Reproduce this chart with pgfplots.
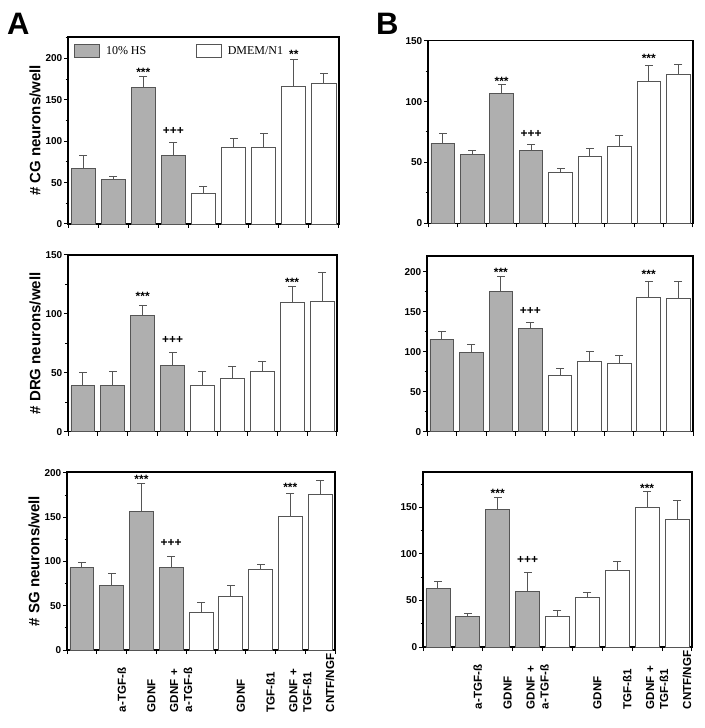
\documentclass[border=0pt]{standalone}
\usepackage{fontspec}
\setmainfont{Liberation Sans}
\newfontfamily\legfont{Liberation Serif}
\usepackage{pgfplots}
\pgfplotsset{compat=1.18}
\usepackage{pgfplotstable}
\usetikzlibrary{plotmarks}

\definecolor{barg}{HTML}{AFAFAF}
\definecolor{bard}{HTML}{555555}

\pgfplotstableread{
x y e
1 67 16
2 54 4
3 165 13
4 83 16
5 37 8
6 92 11
7 93 17
8 166 33
9 170 12
}\dAone
\pgfplotstableread{
x y e
1 65.6 8.2
2 56.5 3.5
3 106.5 7.5
4 60 4.4
5 41.5 3.5
6 55 6.5
7 63.4 9
8 116.4 13.6
9 122.4 8.2
}\dBone
\pgfplotstableread{
x y e
1 39 11
2 39 12
3 99 8
4 56 11.5
5 39 12
6 45 10
7 51 9
8 110 13
9 111 24.6
}\dAtwo
\pgfplotstableread{
x y e
1 116 9
2 99.6 10
3 176 18.6
4 129.7 7.3
5 70 9.5
6 88 13
7 85 10
8 168.6 20
9 167 21.7
}\dBtwo
\pgfplotstableread{
x y e
1 93 6
2 73 13
3 156 32
4 93 13
5 43 11
6 61 12
7 91 6
8 151 26
9 176 16
}\dAthree
\pgfplotstableread{
x y e
1 62.5 7.5
2 32.5 3.3
3 147.6 13.4
4 60 19.7
5 33.2 6.4
6 53.6 5.4
7 82.2 10
8 150 16.9
9 136.9 20
}\dBthree

\pgfplotsset{
  panel/.style={
    scale only axis, anchor=south west,
    xmin=0.5, xmax=9.5, ymin=0, enlargelimits=false,
    xtick={0.5,1.5,...,9.5}, xticklabels={},
    ytick distance=50, minor y tick num=1,
    xtick pos=bottom, ytick pos=left,
    tick align=outside, major tick length=4pt, minor tick length=2.5pt,
    tick style={black, line width=1pt},
    axis line style={line width=1.2pt, black},
    /pgf/number format/assume math mode=true,
    yticklabel style={font=\bfseries\fontsize{10}{10}\selectfont, inner sep=1.5pt},
    ylabel style={font=\bfseries\fontsize{15}{15}\selectfont},
    bar width=0.8, clip=false,
  },
  errs/.style={
    error bars/y dir=plus, error bars/y explicit,
    error bars/error mark=none,
    error bars/error bar style={draw=bard, line width=0.9pt}},
  grayb/.style={ybar, bar shift=0pt, forget plot, fill=barg, draw=bard, line width=0.8pt, errs},
  whiteb/.style={ybar, bar shift=0pt, forget plot, fill=white, draw=bard, line width=0.8pt, errs},
  caps/.style={only marks, forget plot, mark=-, mark size=4pt, mark options={draw=bard, line width=0.9pt}},
  bottomlabels/.style={
    extra x ticks={2,3,4,6,7,8,9},
    extra x tick labels={a-TGF-ß, GDNF, {GDNF +\\a-TGF-ß}, GDNF, TGF-ß1, {GDNF +\\TGF-ß1}, CNTF/NGF},
    extra x tick style={major tick length=0pt,
      xticklabel style={rotate=90, anchor=east, text width=62pt, align=left,
        font=\bfseries\fontsize{11.6}{14}\selectfont, inner sep=0pt, yshift=-10pt}}},
}
\newcommand{\st}[3]{\node[anchor=base, font=\bfseries\fontsize{12}{12}\selectfont, inner sep=0pt] at (axis cs:#1,#2) {#3};}
\newcommand{\panelbars}[1]{%
  \addplot[grayb, restrict x to domain=0.9:4.1] table[x=x,y=y,y error=e] {#1};
  \addplot[whiteb, restrict x to domain=4.9:9.1] table[x=x,y=y,y error=e] {#1};
  \addplot[caps] table[x=x, y expr=\thisrow{y}+\thisrow{e}] {#1};}

\begin{document}
\begin{tikzpicture}
\useasboundingbox (0pt,0pt) rectangle (704pt,728pt);
\node[anchor=north west, font=\bfseries\fontsize{31}{31}\selectfont, inner sep=0pt] at (7pt,715pt) {A};
\node[anchor=north west, font=\bfseries\fontsize{31}{31}\selectfont, inner sep=0pt] at (376pt,715pt) {B};

% A1 CG
\begin{axis}[panel, at={(68pt,504pt)}, width=271pt, height=187pt, ymax=226,
  ylabel={\# CG neurons/well},
  legend columns=2, legend cell align=left,
  legend style={at={(0,1)}, anchor=north west, xshift=6pt, yshift=-7pt, draw=none, fill=none,
    inner sep=0pt, font=\legfont\fontsize{12}{12}\selectfont}]
\addlegendimage{legend image code/.code={\draw[fill=barg,draw=bard,line width=0.8pt] (0pt,-6.5pt) rectangle (25pt,6.5pt);}}
\addlegendentry{\hspace{4pt}\makebox[88pt][l]{10\% HS}}
\addlegendimage{legend image code/.code={\draw[fill=white,draw=bard,line width=0.8pt] (0pt,-6.5pt) rectangle (25pt,6.5pt);}}
\addlegendentry{\hspace{4pt}DMEM/N1}
\panelbars{\dAone}
\st{3}{178.4}{***}
\st{4}{108.5}{+++}
\st{8}{200}{**}
\end{axis}

% B1 CG
\begin{axis}[panel, at={(428pt,504.7pt)}, width=265pt, height=182.6pt, ymax=150]
\panelbars{\dBone}
\st{3}{113.5}{***}
\st{4}{70.3}{+++}
\st{8}{132.2}{***}
\end{axis}

% A2 DRG
\begin{axis}[panel, at={(68pt,296.3pt)}, width=269pt, height=176.7pt, ymax=150,
  ylabel={\# DRG neurons/well}]
\panelbars{\dAtwo}
\st{3}{111.4}{***}
\st{4}{74.7}{+++}
\st{8}{123.5}{***}
\end{axis}

% B2 DRG
\begin{axis}[panel, at={(427pt,296.3pt)}, width=266pt, height=175.7pt, ymax=220]
\panelbars{\dBtwo}
\st{3}{194}{***}
\st{4}{146.5}{+++}
\st{8}{191.2}{***}
\end{axis}

% A3 SG
\begin{axis}[panel, bottomlabels, at={(67pt,78pt)}, width=268pt, height=178pt, ymax=201,
  ylabel={\# SG neurons/well}]
\panelbars{\dAthree}
\st{3}{187.5}{***}
\st{4}{116.5}{+++}
\st{8}{178.8}{***}
\end{axis}

% B3 SG
\begin{axis}[panel, bottomlabels, at={(423pt,81pt)}, width=269pt, height=175pt, ymax=188]
\panelbars{\dBthree}
\st{3}{160.5}{***}
\st{4}{89.2}{+++}
\st{8}{166.5}{***}
\end{axis}
\end{tikzpicture}
\end{document}
